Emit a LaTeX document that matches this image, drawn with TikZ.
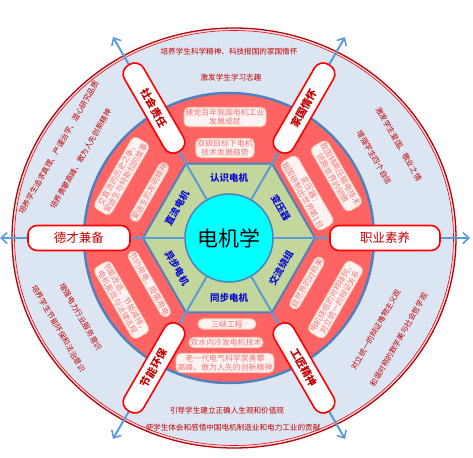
\documentclass[tikz,border=0pt]{standalone}
\usepackage{fontspec}
\setmainfont{Noto Sans CJK SC}
\usetikzlibrary{arrows.meta}
\definecolor{skyA}{HTML}{DCE6F2}
\definecolor{deepR}{HTML}{C00000}
\definecolor{ringR}{HTML}{FF6464}
\definecolor{lineB}{HTML}{4F81BD}
\definecolor{arrB}{HTML}{5B9BD5}
\definecolor{hexG}{HTML}{C3D69B}
\definecolor{coreC}{HTML}{00FFFF}
\definecolor{segB}{HTML}{1010D0}
\definecolor{peach}{HTML}{F8CBAD}
\definecolor{pinkT}{HTML}{F07878}

\begin{document}
\begin{tikzpicture}[x=1pt,y=1pt,
  arr/.style={draw=arrB,line width=2pt,-{Straight Barb[length=6pt,width=11pt,line width=1.6pt]}},
  spoke/.style={draw=red,line width=1.6pt,fill=white,rounded corners=10pt,minimum width=100pt,
    minimum height=22pt,inner sep=0pt,font=\bfseries\fontsize{10.5}{11}\selectfont,text=deepR},
  side/.style={spoke,font=\fontsize{12.5}{13}\selectfont,minimum width=102pt,minimum height=25pt,rounded corners=9pt},
  idea/.style={draw=peach,line width=.8pt,fill=white,fill opacity=.92,text opacity=1,rounded corners=5pt,
    inner sep=1.5pt,align=center,font=\fontsize{7.9}{9}\selectfont,text=pinkT},
  seg/.style={font=\bfseries\fontsize{9.5}{10}\selectfont,text=segB},
  goal/.style={font=\fontsize{7.6}{8.5}\selectfont,text=deepR}]
  \useasboundingbox (-229,-219) rectangle (244,238);
  % rings and hexagon
  \draw[draw=deepR,line width=1.3pt,fill=skyA] (5,0) ellipse [x radius=222,y radius=210];
  \draw[draw=red,line width=.6pt] (5,0) ellipse [x radius=219.5,y radius=207.5];
  \draw[draw=lineB,line width=2.5pt,fill=ringR] (0,0) circle [radius=145];
  \draw[draw=lineB,line width=2pt,fill=hexG] (0:86)--(60:86)--(120:86)--(180:86)--(240:86)--(300:86)--cycle;
  \node[circle,draw=lineB,line width=1.5pt,fill=coreC,minimum size=88pt,inner sep=0pt,
    font=\fontsize{21}{21}\selectfont] (core) at (0,0) {电机学};
  % arrows
  \coordinate (eR) at (0:241);
  \coordinate (eUR) at (60:232);
  \coordinate (eUL) at (120:232);
  \coordinate (eL) at (180:229);
  \coordinate (eLL) at (240:232);
  \coordinate (eLR) at (300:232);
  \draw[arr] (core)--(eR);
  \draw[arr] (core)--(eUR);
  \draw[arr] (core)--(eUL);
  \draw[arr] (core)--(eL);
  \draw[arr] (core)--(eLL);
  \draw[arr] (core)--(eLR);
  % chapters
  \node[seg] (rs) at (90:60) {认识电机};
  \node[seg,rotate=-60] (byq) at (30:60) {变压器};
  \node[seg,rotate=60] (jl) at (-30:60) {交流绕组};
  \node[seg] (tb) at (-90:60) {同步电机};
  \node[seg,rotate=-60] (yb) at (210:60) {异步电机};
  \node[seg,rotate=60] (zl) at (150:60) {直流电机};
  % spoke labels
  \node[side] (dc) at (180:150) {德才兼备};
  \node[side,minimum width=110pt] (zy) at (0:156) {职业素养};
  \node[spoke,rotate=60] (jg) at (60:150) {家国情怀};
  \node[spoke,rotate=-60] (sh) at (120:150) {社会责任};
  \node[spoke,rotate=60] (jn) at (240:150) {节能环保};
  \node[spoke,rotate=-60] (gj) at (300:150) {工匠精神};
  % cases in the red ring
  \node[idea] (c1) at (-4,121) {建党百年我国电机工业\\发展成就};
  \node[idea] (c2) at (-4,90) {双碳目标下电机\\技术发展趋势};
  \node[idea,rotate=-60] (c3) at (30:124) {我国特高压输电技术\\领跑世界的骄傲};
  \node[idea,rotate=-60] (c4) at (30:90) {变压器：\\我国研制出世界第1台};
  \node[idea,rotate=60] (c5) at (-30:90) {自然界的对称美};
  \node[idea,rotate=60] (c6) at (-30:123) {电机绕组的对称排列，\\对立统一的辩证关系};
  \node[idea,minimum width=58pt] (c7) at (-2,-86) {三峡工程};
  \node[idea] (c8) at (-3,-104.5) {双水内冷发电机技术};
  \node[idea] (c9) at (-4,-125) {老一代电气科学家勇攀\\高峰、敢为人先的创新精神};
  \node[idea,rotate=-60] (c10) at (210:92) {节约用电、按需用电};
  \node[idea,rotate=-60] (c11) at (210:124) {节能改造、节能减排，\\电机能效与法律法规};
  \node[idea,rotate=60] (c12) at (150:92) {爱迪生的发明精神};
  \node[idea,rotate=60] (c13) at (150:124) {交直流的历史之争，\\爱迪生与特斯拉的故事};
  % goals in the outer ring
  \node[goal] (g1) at (0,186) {培养学生科学精神、科技报国的家国情怀};
  \node[goal] (g2) at (2,160) {激发学生学习志趣};
  \node[goal,rotate=-60] (g3) at (29:194) {激发学生爱国、敬业之情};
  \node[goal,rotate=-60] (g4) at (29:166) {增强学生四个自信};
  \node[goal,rotate=60] (g5) at (-32:173) {对立统一的辩证唯物主义观};
  \node[goal,rotate=60] (g6) at (-31:198) {和谐对称的数学美与社会哲学观};
  \node[goal] (g7) at (-2,-173) {引导学生建立正确人生观和价值观};
  \node[goal] (g8) at (4,-190) {使学生体会和感悟中国电机制造业和电力工业的贡献};
  \node[goal,rotate=-60] (g9) at (208:193) {培养学生节能环保和法治意识};
  \node[goal,rotate=-60] (g10) at (208:168) {增强电力行业服务意识};
  \node[goal,rotate=60] (g11) at (152:193) {培养学生追求真理、严谨治学、潜心研究品质};
  \node[goal,rotate=60] (g12) at (152:168) {培养勇攀高峰、敢为人先创新精神};
\end{tikzpicture}
\end{document}
